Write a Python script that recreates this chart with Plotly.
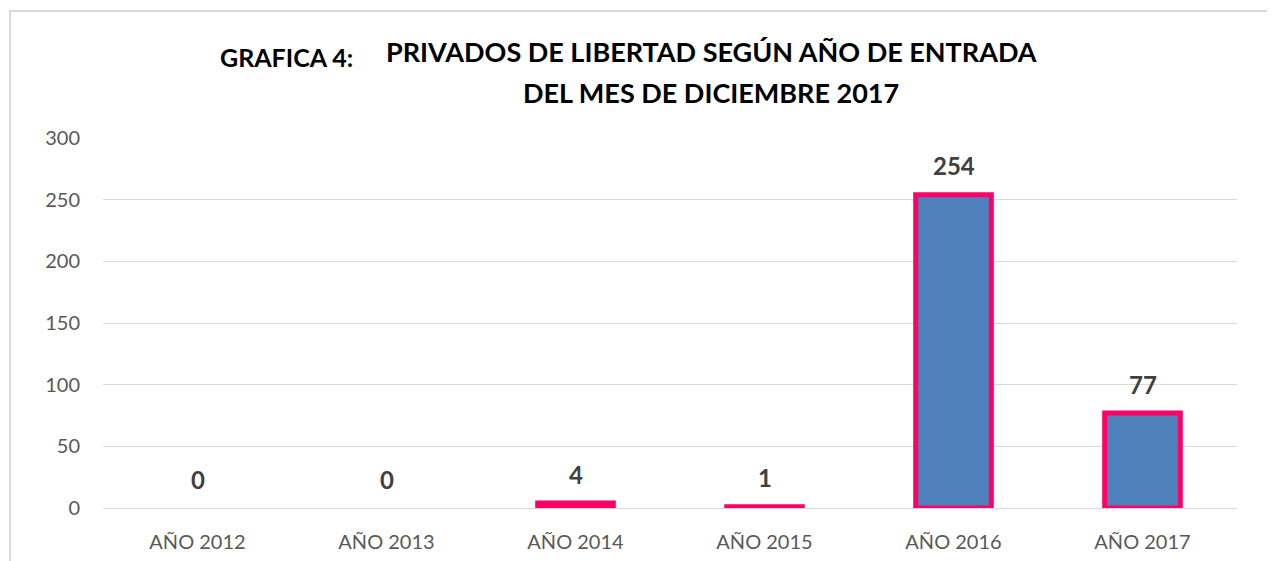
import plotly.graph_objects as go

categories = ["AÑO 2012", "AÑO 2013", "AÑO 2014", "AÑO 2015", "AÑO 2016", "AÑO 2017"]
values = [0, 0, 4, 1, 254, 77]
y_ticks = [0, 50, 100, 150, 200, 250, 300]

FONT = "Lato"
line_widths = [0 if v == 0 else 5 for v in values]

# plot area (page coords): x 103..1237, y 138..508 ; page has 8px body offset
PL, PR, PT, PB = 103, 1237, 138, 508
PW, PH = PR - PL, PB - PT


def px(x):
    return (x - PL) / PW


def py(y):
    return (PB - y) / PH


fig = go.Figure()
fig.add_trace(go.Bar(
    x=categories, y=values, width=0.4,
    marker=dict(color="#4F81BD", line=dict(color="#FF0066", width=line_widths)),
    hoverinfo="skip",
))

for c, v in zip(categories, values):
    fig.add_annotation(x=c, y=v, text=f"<b>{v}</b>", showarrow=False,
                       yanchor="middle", yshift=29,
                       font=dict(family=FONT, size=24, color="#404040"))

fig.add_annotation(xref="paper", yref="paper", x=px(218), y=py(57),
                   xanchor="left", yanchor="middle", showarrow=False,
                   text="<b>GRAFICA 4:</b>", font=dict(family=FONT, size=25, color="#000000"))
fig.add_annotation(xref="paper", yref="paper", x=px(711), y=py(52),
                   xanchor="center", yanchor="middle", showarrow=False,
                   text="<b>PRIVADOS DE LIBERTAD SEGÚN AÑO DE ENTRADA</b>",
                   font=dict(family=FONT, size=27, color="#000000"))
fig.add_annotation(xref="paper", yref="paper", x=px(711), y=py(93),
                   xanchor="center", yanchor="middle", showarrow=False,
                   text="<b>DEL MES DE DICIEMBRE 2017</b>",
                   font=dict(family=FONT, size=27, color="#000000"))

fig.add_shape(type="rect", xref="paper", yref="paper",
              x0=px(10), x1=px(1300), y0=py(620), y1=py(11),
              line=dict(color="#D9D9D9", width=2), layer="below")

fig.update_layout(
    width=1275, height=561,
    margin=dict(l=PL - 8, r=1275 + 8 - PR, t=PT - 8, b=561 + 8 - PB),
    paper_bgcolor="white", plot_bgcolor="white",
    showlegend=False,
    xaxis=dict(showgrid=False, showline=False, ticks="", fixedrange=True,
               ticklabelstandoff=20,
               tickfont=dict(family=FONT, size=20, color="#595959")),
    yaxis=dict(range=[0, 300], tickvals=y_ticks, showgrid=True, gridcolor="#D9D9D9",
               gridwidth=1, zeroline=True, zerolinecolor="#D9D9D9", zerolinewidth=1,
               ticks="", ticklabelstandoff=22,
               tickfont=dict(family=FONT, size=20, color="#595959")),
)

fig.write_html("out.html")
